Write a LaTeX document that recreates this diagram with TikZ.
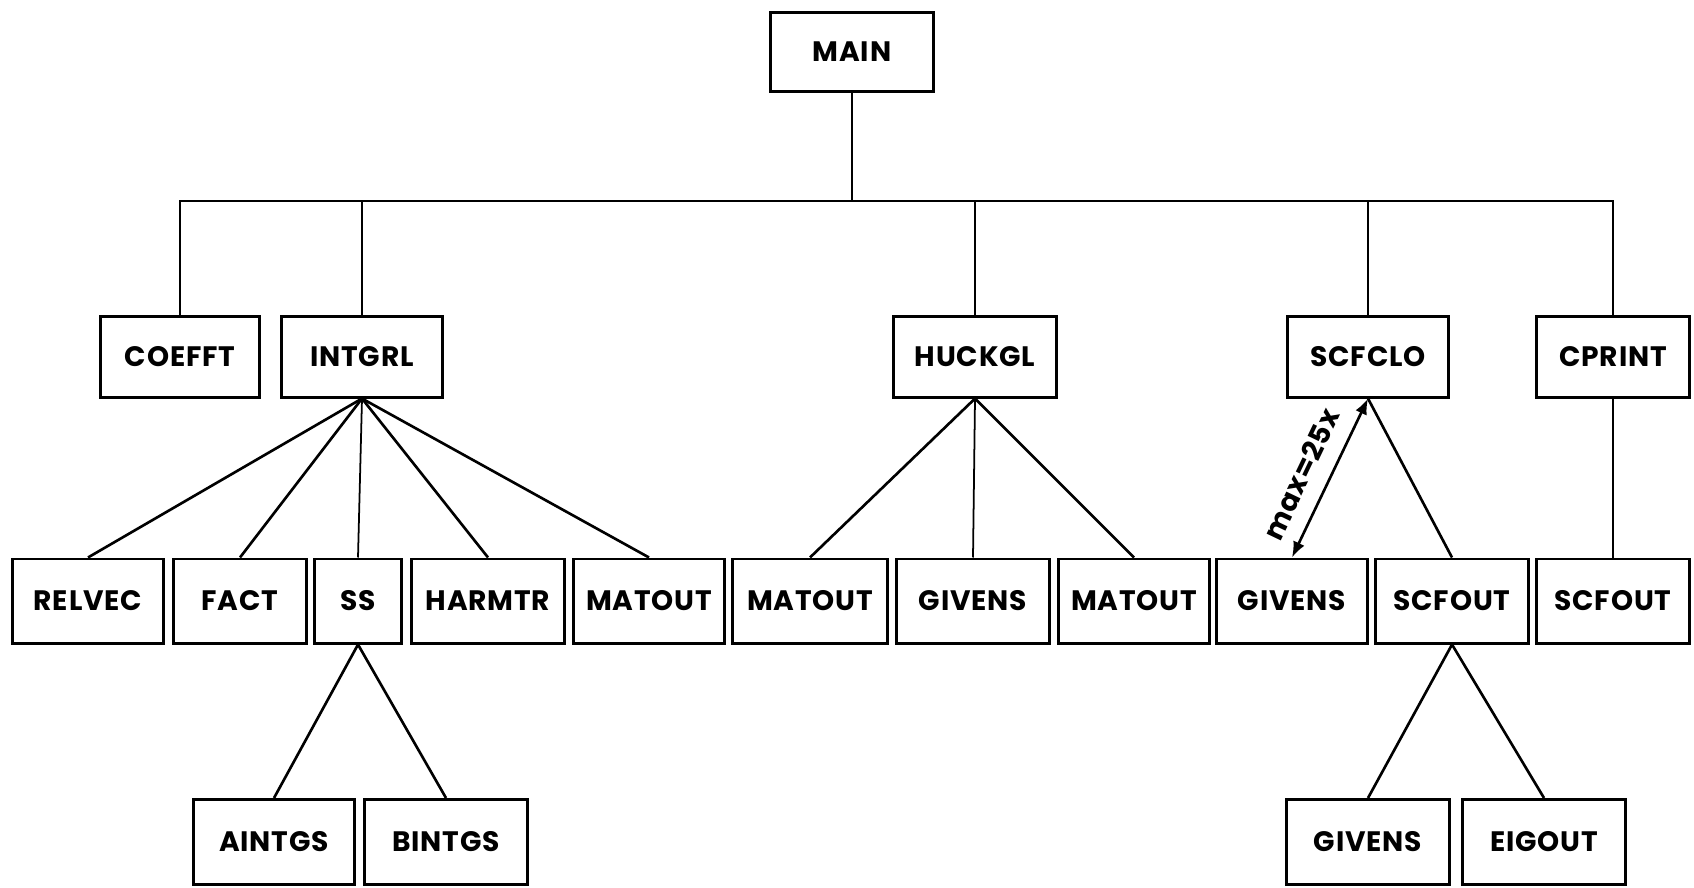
\documentclass[tikz,border=0pt]{standalone}
\usepackage{fontspec}
\setmainfont{Poppins}
\newfontfamily\routinefont{Poppins}[LetterSpace=3.0]
\usetikzlibrary{arrows.meta}
\tikzset{
routine/.style={rectangle,draw=black,line width=0.85pt,inner sep=0pt,
  font=\routinefont\bfseries\fontsize{8}{10}\selectfont},
top/.style={routine,minimum height=0.80cm},
mid/.style={routine,minimum height=0.84cm},
low/.style={routine,minimum height=0.85cm},
call/.style={line width=0.75pt,draw=black},
bus/.style={line width=0.5pt,draw=black},
loop/.style={call,{Latex[length=4.5pt,width=3.5pt]}-{Latex[length=4.5pt,width=3.5pt]}},
}

\begin{document}
\begin{tikzpicture}[x=0.01cm,y=-0.01cm]
\useasboundingbox (0,0) rectangle (1694,887);
% main program
\node[routine,minimum width=1.62cm,minimum height=0.79cm] (main) at (852,52) {MAIN};
\coordinate (busmid) at (852,201);
% first level
\node[top,minimum width=1.58cm] (coefft) at (180,357) {COEFFT};
\node[top,minimum width=1.60cm] (intgrl) at (362,357) {INTGRL};
\node[top,minimum width=1.63cm] (huckgl) at (975,357) {HUCKGL};
\node[top,minimum width=1.61cm] (scfclo) at (1368,357) {SCFCLO};
\node[top,minimum width=1.52cm] (cprint) at (1613,357) {CPRINT};
% second level
\node[mid,minimum width=1.51cm] (relvec) at (88,601) {RELVEC};
\node[mid,minimum width=1.33cm] (fact) at (240,601) {FACT};
\node[mid,minimum width=0.87cm] (ss) at (358,601) {SS};
\node[mid,minimum width=1.53cm] (harmtr) at (488,601) {HARMTR};
\node[mid,minimum width=1.51cm] (matoutA) at (649,601) {MATOUT};
\node[mid,minimum width=1.54cm] (matoutB) at (810,601) {MATOUT};
\node[mid,minimum width=1.52cm] (givensA) at (973,601) {GIVENS};
\node[mid,minimum width=1.51cm] (matoutC) at (1134,601) {MATOUT};
\node[mid,minimum width=1.50cm] (givensB) at (1292,601) {GIVENS};
\node[mid,minimum width=1.52cm] (scfoutA) at (1452,601) {SCFOUT};
\node[mid,minimum width=1.52cm] (scfoutB) at (1613,601) {SCFOUT};
% third level
\node[low,minimum width=1.60cm] (aintgs) at (274,842) {AINTGS};
\node[low,minimum width=1.62cm] (bintgs) at (446,842) {BINTGS};
\node[low,minimum width=1.63cm] (givensC) at (1368,842) {GIVENS};
\node[low,minimum width=1.63cm] (eigout) at (1544,842) {EIGOUT};

% bus from MAIN
\draw[bus] (main.south) -- (busmid);
\draw[bus] (coefft.north) -- (coefft.north |- busmid) -- (cprint.north |- busmid) -- (cprint.north);
\draw[bus] (intgrl.north) -- (intgrl.north |- busmid);
\draw[bus] (huckgl.north) -- (huckgl.north |- busmid);
\draw[bus] (scfclo.north) -- (scfclo.north |- busmid);

% calls of INTGRL
\draw[call] (intgrl.south) -- (relvec.north);
\draw[call] (intgrl.south) -- (fact.north);
\draw[bus] (intgrl.south) -- (ss.north);
\draw[call] (intgrl.south) -- (harmtr.north);
\draw[call] (intgrl.south) -- (matoutA.north);
\draw[call] (ss.south) -- (aintgs.north);
\draw[call] (ss.south) -- (bintgs.north);

% calls of HUCKGL
\draw[call] (huckgl.south) -- (matoutB.north);
\draw[bus] (huckgl.south) -- (givensA.north);
\draw[call] (huckgl.south) -- (matoutC.north);

% calls of SCFCLO
\draw[loop] (givensB.north) -- node[pos=0.45,sloped,above=3pt,inner sep=1.5pt,font=\routinefont\bfseries\fontsize{8}{10}\selectfont] {max=25x} (scfclo.south);
\draw[call] (scfclo.south) -- (scfoutA.north);
\draw[call] (scfoutA.south) -- (givensC.north);
\draw[call] (scfoutA.south) -- (eigout.north);

% CPRINT
\draw[bus] (cprint.south) -- (scfoutB.north);
\end{tikzpicture}
\end{document}
